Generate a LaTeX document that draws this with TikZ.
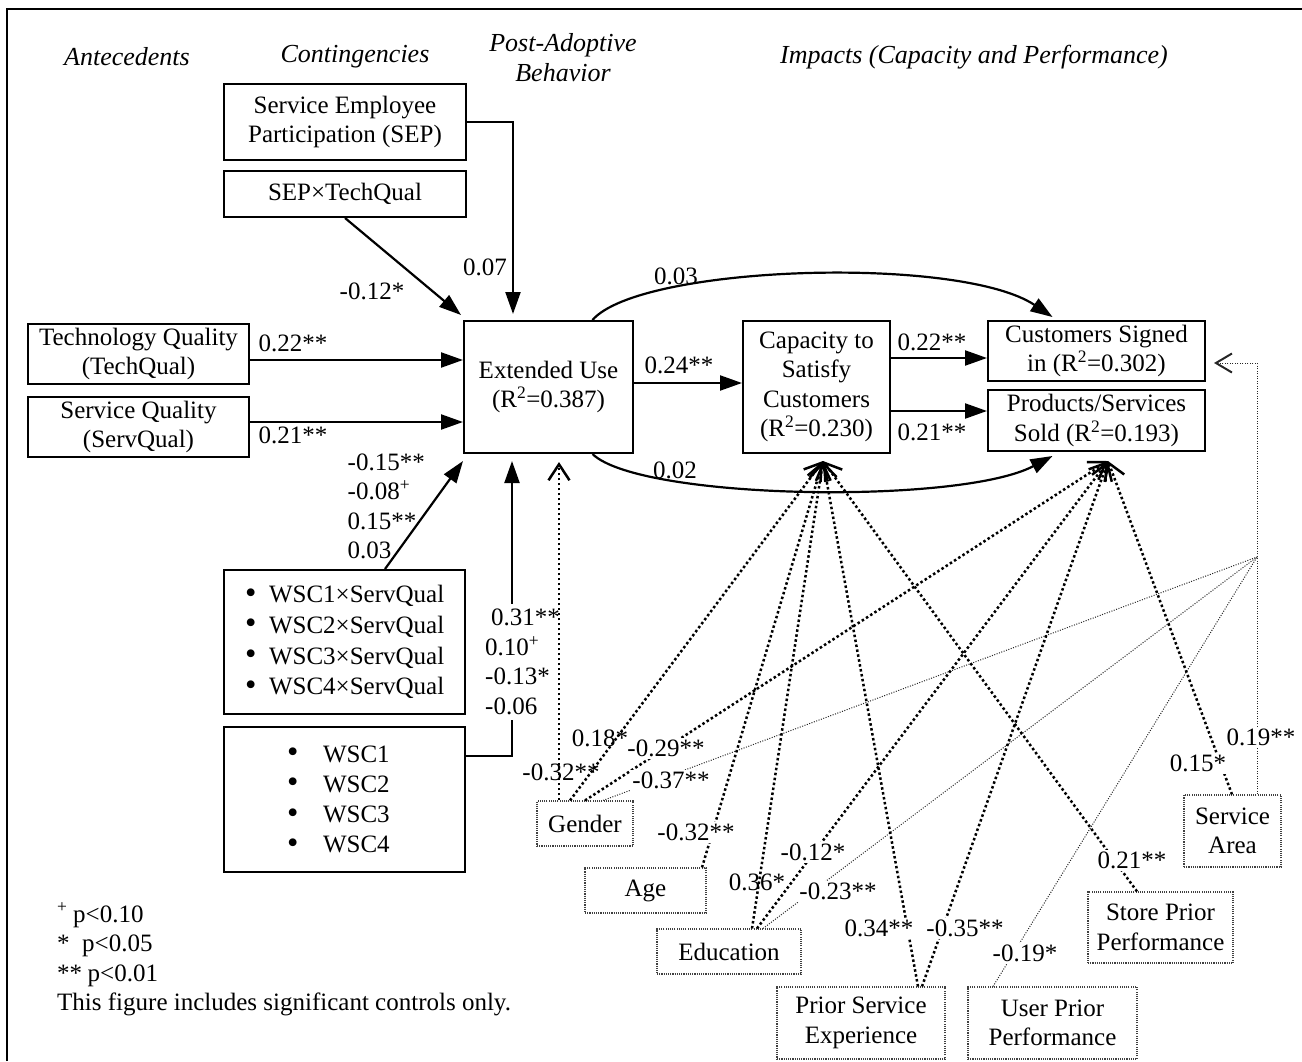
\documentclass[tikz,border=0pt]{standalone}
\usepackage{fontspec}
\setmainfont{Liberation Serif}
\usetikzlibrary{arrows.meta,calc}
\newcommand{\bigbul}{\raisebox{-0.5pt}{\scalebox{1.3}{•}}}
\begin{document}
\begin{tikzpicture}[x=1pt,y=-1pt,
  every node/.style={font=\fontsize{25}{29.5}\selectfont},
  box/.style={draw, line width=2pt, align=center, inner sep=0pt},
  ctlbox/.style={draw=black!75, line width=1.1pt, dash pattern=on 1.1pt off 1.1pt, align=center, inner sep=0pt},
  hdr/.style={font=\fontsize{26}{30}\selectfont\itshape, align=center},
  lab/.style={inner sep=1.5pt},
  labw/.style={inner sep=2pt, fill=white},
  solidarr/.style={line width=2.2pt, -{Triangle[length=22pt,width=15pt]}},
  dotarr/.style={line width=2.5pt, dash pattern=on 2.5pt off 2.5pt, -{Straight Barb[length=16pt,width=21pt,line width=2.5pt]}},
  thindot/.style={line width=1pt, dash pattern=on 1pt off 1.5pt, draw=black!85},
]
\useasboundingbox (0,0) rectangle (1302,1061);
\draw[line width=2pt] (7,1061) -- (7,9) -- (1302,9);

% headers
\node[hdr] (hA) at (127,57) {Antecedents};
\node[hdr] (hC) at (355,57) {Contingencies};
\node[hdr] (hP) at (563,58) {Post-Adoptive\\Behavior};
\node[hdr] (hI) at (974,57) {Impacts (Capacity and Performance)};

% main boxes
\node[box, minimum width=242pt, minimum height=76pt] (sep) at (345,122) {Service Employee\\Participation (SEP)};
\node[box, minimum width=242pt, minimum height=46pt] (septq) at (345,194) {SEP×TechQual};
\node[box, minimum width=221pt, minimum height=60pt] (tq) at (138.5,354) {Technology Quality\\(TechQual)};
\node[box, minimum width=221pt, minimum height=60pt] (sq) at (138.5,427) {Service Quality\\(ServQual)};
\node[box, minimum width=169pt, minimum height=132pt] (ext) at (548.5,387) {Extended Use\\(R\textsuperscript{2}=0.387)};
\node[box, minimum width=147pt, minimum height=132pt] (cap) at (816.5,387) {Capacity to\\Satisfy\\Customers\\(R\textsuperscript{2}=0.230)};
\node[box, minimum width=217pt, minimum height=60pt] (cust) at (1096.5,351) {Customers Signed\\in (R\textsuperscript{2}=0.302)};
\node[box, minimum width=217pt, minimum height=61pt] (prod) at (1096.5,420.5) {Products/Services\\Sold (R\textsuperscript{2}=0.193)};
\node[box, minimum width=241pt, minimum height=144pt, text width=241pt, align=left,
      font=\fontsize{25}{30.7}\selectfont] (wscsq) at (344.5,642)
  {\hspace*{21pt}\makebox[24pt][l]{\bigbul}WSC1×ServQual\\
   \hspace*{21pt}\makebox[24pt][l]{\bigbul}WSC2×ServQual\\
   \hspace*{21pt}\makebox[24pt][l]{\bigbul}WSC3×ServQual\\
   \hspace*{21pt}\makebox[24pt][l]{\bigbul}WSC4×ServQual};
\node[box, minimum width=241pt, minimum height=145pt, text width=241pt, align=left,
      font=\fontsize{25}{30.3}\selectfont] (wsc) at (344.5,799.5)
  {\hspace*{63pt}\makebox[36pt][l]{\bigbul}WSC1\\
   \hspace*{63pt}\makebox[36pt][l]{\bigbul}WSC2\\
   \hspace*{63pt}\makebox[36pt][l]{\bigbul}WSC3\\
   \hspace*{63pt}\makebox[36pt][l]{\bigbul}WSC4};

% control boxes
\node[ctlbox, minimum width=96pt, minimum height=45pt] (gender) at (585,823.5) {Gender};
\node[ctlbox, minimum width=121pt, minimum height=45pt] (age) at (645.5,890.5) {Age};
\node[ctlbox, minimum width=144pt, minimum height=45pt] (edu) at (729,951.5) {Education};
\node[ctlbox, minimum width=168pt, minimum height=72pt] (pse) at (861,1023) {Prior Service\\Experience};
\node[ctlbox, minimum width=169pt, minimum height=72pt] (upp) at (1052.5,1023) {User Prior\\Performance};
\node[ctlbox, minimum width=145pt, minimum height=71pt] (spp) at (1160.5,927.5) {Store Prior\\Performance};
\node[ctlbox, minimum width=97pt, minimum height=72pt] (sa) at (1232.5,831) {Service\\Area};

% solid arrows
\draw[solidarr] (sep.east) -| ($(ext.north west)+(50,-6)$);
\draw[solidarr] (septq.south) -- ($(ext.north west)+(-2,-5)$);
\draw[solidarr] ($(tq.east)+(0,6)$) -- ($(ext.west)+(0,-27)$);
\draw[solidarr] ($(sq.east)+(0,-5)$) -- ($(ext.west)+(0,35)$);
\draw[solidarr] ($(wscsq.north west)+(162,0)$) -- ($(ext.south west)+(0,7)$);
\draw[solidarr] ($(wsc.north east)+(0,30)$) -| ($(ext.south west)+(49,7)$);
\draw[solidarr] ($(ext.east)+(0,-4)$) -- ($(cap.west)+(0,-4)$);
\draw[solidarr] ($(cap.east)+(0,-29)$) -- ($(cust.west)+(0,7)$);
\draw[solidarr] ($(cap.east)+(0,24)$) -- ($(prod.west)+(0,-9.5)$);
\draw[solidarr] ($(ext.north)+(44,0)$) .. controls (640,265) and (960,255) .. ($(cust.north)+(-44,-3)$);
\draw[solidarr] ($(ext.south)+(44,0)$) .. controls (640,500) and (960,505) .. ($(prod.south)+(-44,4)$);

% labels on solid arrows
\node[lab] (l07) at (485,267) {0.07};
\node[lab] (l12) at (372,291) {-0.12*};
\node[lab] (l22a) at (293,343) {0.22**};
\node[lab] (l21a) at (293,435) {0.21**};
\node[lab, align=left, anchor=west] (lq) at (346,506.5) {-0.15**\\-0.08\textsuperscript{+}\\0.15**\\0.03};
\node[labw, align=left, anchor=west, inner ysep=5pt] (lw) at (483,662) {\hspace*{6pt}0.31**\\0.10\textsuperscript{+}\\-0.13*\\-0.06};
\node[lab] (l24) at (679,365) {0.24**};
\node[lab] (l22b) at (932,342) {0.22**};
\node[lab] (l21b) at (932,432) {0.21**};
\node[lab] (l03) at (676,276) {0.03};
\node[lab] (l02) at (675,470) {0.02};

% control arrows
\coordinate (capT) at (823,461);
\coordinate (prodT) at (1108,461);
\coordinate (J) at (1257,557);
\draw[dotarr] ([xshift=-26pt]gender.north) -- ($(ext.south)+(10.5,8)$);
\draw[dotarr] ([xshift=-15pt]gender.north) -- (capT);
\draw[dotarr] (gender.north) -- (prodT);
\draw[thindot] ([xshift=18pt]gender.north) -- (J);
\draw[dotarr] ([xshift=56.5pt]age.north) -- (capT);
\draw[dotarr] ([xshift=23pt]edu.north) -- (capT);
\draw[dotarr] ([xshift=28pt]edu.north) -- (prodT);
\draw[thindot] ([xshift=34pt]edu.north) -- (J);
\draw[dotarr] ([xshift=57pt]pse.north) -- (capT);
\draw[dotarr] ([xshift=61pt]pse.north) -- (prodT);
\draw[thindot] ([xshift=-59.5pt]upp.north) -- (J);
\draw[dotarr] ([xshift=-23.5pt]spp.north) -- (capT);
\draw[dotarr] ([xshift=-0.5pt]sa.north) -- (prodT);
\draw[thindot, -{Straight Barb[length=16pt,width=19pt,line width=2pt]}] ([xshift=24.5pt]sa.north) |- ($(cust.east)+(8,12)$);

% control labels
\node[lab] (lg1) at (561,772) {-0.32**};
\node[lab] (lg2) at (600,738) {0.18*};
\node[labw] (lg3) at (666,748) {-0.29**};
\node[labw] (lg4) at (671,780) {-0.37**};
\node[labw] (la1) at (696,832) {-0.32**};
\node[lab] (le1) at (757,882) {0.36*};
\node[labw] (le2) at (813,852) {-0.12*};
\node[labw] (le3) at (838,891) {-0.23**};
\node[labw] (lp1) at (879,928) {0.34**};
\node[labw] (lp2) at (965,928) {-0.35**};
\node[labw] (lu1) at (1025,953) {-0.19*};
\node[labw] (ls1) at (1132,860) {0.21**};
\node[labw] (lsa1) at (1198,763) {0.15*};
\node[labw] (lsa2) at (1261,737) {0.19**};

% legend
\node[anchor=base west, inner sep=0pt] (lg1l) at (57,922) {\makebox[16pt][l]{\textsuperscript{+}}p<0.10};
\node[anchor=base west, inner sep=0pt] (lg2l) at (57,951) {\makebox[25pt][l]{*}p<0.05};
\node[anchor=base west, inner sep=0pt] (lg3l) at (57,981) {\makebox[30.5pt][l]{**}p<0.01};
\node[anchor=base west, inner sep=0pt] (lg4l) at (57,1010) {This figure includes significant controls only.};
\end{tikzpicture}
\end{document}
